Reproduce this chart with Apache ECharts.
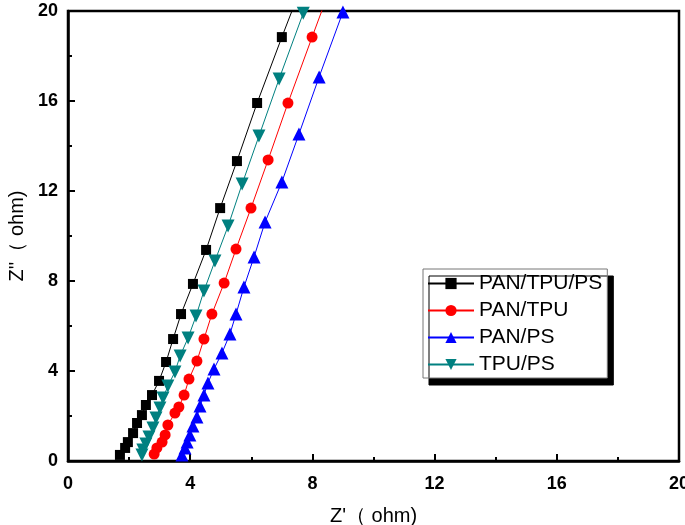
<!DOCTYPE html>
<html>
<head>
<meta charset="utf-8">
<script src="https://cdn.jsdelivr.net/npm/echarts@6/dist/echarts.min.js"></script>
<style>
html,body{margin:0;padding:0;background:#fff;}
#chart{width:685px;height:525px;}
</style>
</head>
<body>
<div id="chart"></div>
<script>
const seriesNames = ['PAN/TPU/PS', 'PAN/TPU', 'PAN/PS', 'TPU/PS'];

const panTpuPsX = [1.70,1.87,1.96,2.13,2.26,2.42,2.55,2.75,2.98,3.21,3.44,3.70,4.09,4.52,4.98,5.53,6.19,7.00,7.90];
const panTpuPsY = [0.27,0.58,0.84,1.24,1.69,2.04,2.49,2.93,3.56,4.40,5.42,6.53,7.87,9.38,11.24,13.33,15.91,18.84,22.0];

const panTpuX = [2.82,2.91,3.08,3.18,3.27,3.50,3.63,3.80,3.96,4.22,4.45,4.71,5.11,5.50,5.99,6.55,7.20,7.99,8.85];
const panTpuY = [0.31,0.58,0.84,1.16,1.60,2.13,2.40,2.93,3.64,4.44,5.42,6.53,7.91,9.42,11.24,13.38,15.91,18.84,22.0];

const panPsX = [3.73,3.83,3.90,3.99,4.09,4.22,4.32,4.45,4.58,4.78,5.04,5.30,5.50,5.76,6.09,6.45,7.00,7.56,8.22,9.00];
const panPsY = [0.27,0.58,0.84,1.16,1.56,1.96,2.44,2.93,3.47,4.09,4.80,5.64,6.53,7.73,9.07,10.62,12.40,14.53,17.07,19.96];

const tpuPsX = [2.42,2.45,2.55,2.65,2.78,2.88,3.01,3.11,3.27,3.50,3.67,3.93,4.19,4.45,4.81,5.24,5.70,6.25,6.91,7.70];
const tpuPsY = [0.27,0.49,0.76,1.07,1.47,1.91,2.36,2.80,3.33,3.96,4.67,5.47,6.44,7.56,8.89,10.44,12.31,14.44,16.98,19.90];

const axisMin = 0, axisMax = 20, axisStep = 4;

function pairs(xs, ys) { return xs.map((x, i) => [x, ys[i]]); }

const chart = echarts.init(document.getElementById('chart'), null, {renderer: 'canvas'});
const labelStyle = {color: '#000', fontFamily: 'Liberation Sans, Arial, sans-serif', fontWeight: 'bold', fontSize: 18};
const nameStyle = {color: '#000', fontFamily: 'Liberation Sans, Arial, sans-serif', fontSize: 20};

function mkSeries(name, xs, ys, color, symbol, size, rotate) {
  return {
    name: name, type: 'line', data: pairs(xs, ys),
    symbol: symbol, symbolSize: size, symbolRotate: rotate || 0,
    showAllSymbol: true, clip: true,
    lineStyle: {color: color, width: 1},
    itemStyle: {color: color},
    emphasis: {disabled: true},
    animation: false
  };
}

chart.setOption({
  animation: false,
  backgroundColor: '#fff',
  grid: {left: 68, right: 6, top: 11, bottom: 64, containLabel: false, outerBoundsMode: 'none',
         show: true, borderColor: '#000', borderWidth: 2.5, backgroundColor: 'transparent'},
  xAxis: {
    type: 'value', min: axisMin, max: axisMax, interval: axisStep,
    name: "Z'（ ohm)", nameLocation: 'middle', nameGap: 45, nameTextStyle: nameStyle,
    axisLine: {show: true, lineStyle: {color: '#000', width: 2.5}},
    axisTick: {show: true, inside: true, length: 7, lineStyle: {color: '#000', width: 2}},
    minorTick: {show: true, splitNumber: 2, length: 4, lineStyle: {color: '#000', width: 2}},
    axisLabel: Object.assign({margin: 14}, labelStyle),
    splitLine: {show: false}
  },
  yAxis: {
    type: 'value', min: axisMin, max: axisMax, interval: axisStep,
    name: "Z''（ ohm)", nameLocation: 'middle', nameGap: 40, nameTextStyle: nameStyle,
    axisLine: {show: true, lineStyle: {color: '#000', width: 2.5}},
    axisTick: {show: true, inside: true, length: 7, lineStyle: {color: '#000', width: 2}},
    minorTick: {show: true, splitNumber: 2, length: 4, lineStyle: {color: '#000', width: 2}},
    axisLabel: Object.assign({margin: 10}, labelStyle),
    splitLine: {show: false}
  },
  legend: {
    orient: 'vertical', left: 423, top: 269,
    padding: [4, 5, 3, 4], itemGap: 6, itemWidth: 46, itemHeight: 14,
    backgroundColor: '#fff', borderColor: '#777', borderWidth: 1,
    shadowColor: '#000', shadowBlur: 0, shadowOffsetX: 6, shadowOffsetY: 7,
    textStyle: {color: '#000', fontFamily: 'Liberation Sans, Arial, sans-serif', fontSize: 21, lineHeight: 20},
    data: seriesNames
  },
  series: [
    mkSeries(seriesNames[0], panTpuPsX, panTpuPsY, '#000000', 'rect', 10),
    mkSeries(seriesNames[1], panTpuX, panTpuY, '#ff0000', 'circle', 11),
    mkSeries(seriesNames[2], panPsX, panPsY, '#0000ff', 'triangle', 13),
    mkSeries(seriesNames[3], tpuPsX, tpuPsY, '#008080', 'triangle', 13, 180)
  ]
});
</script>
</body>
</html>
